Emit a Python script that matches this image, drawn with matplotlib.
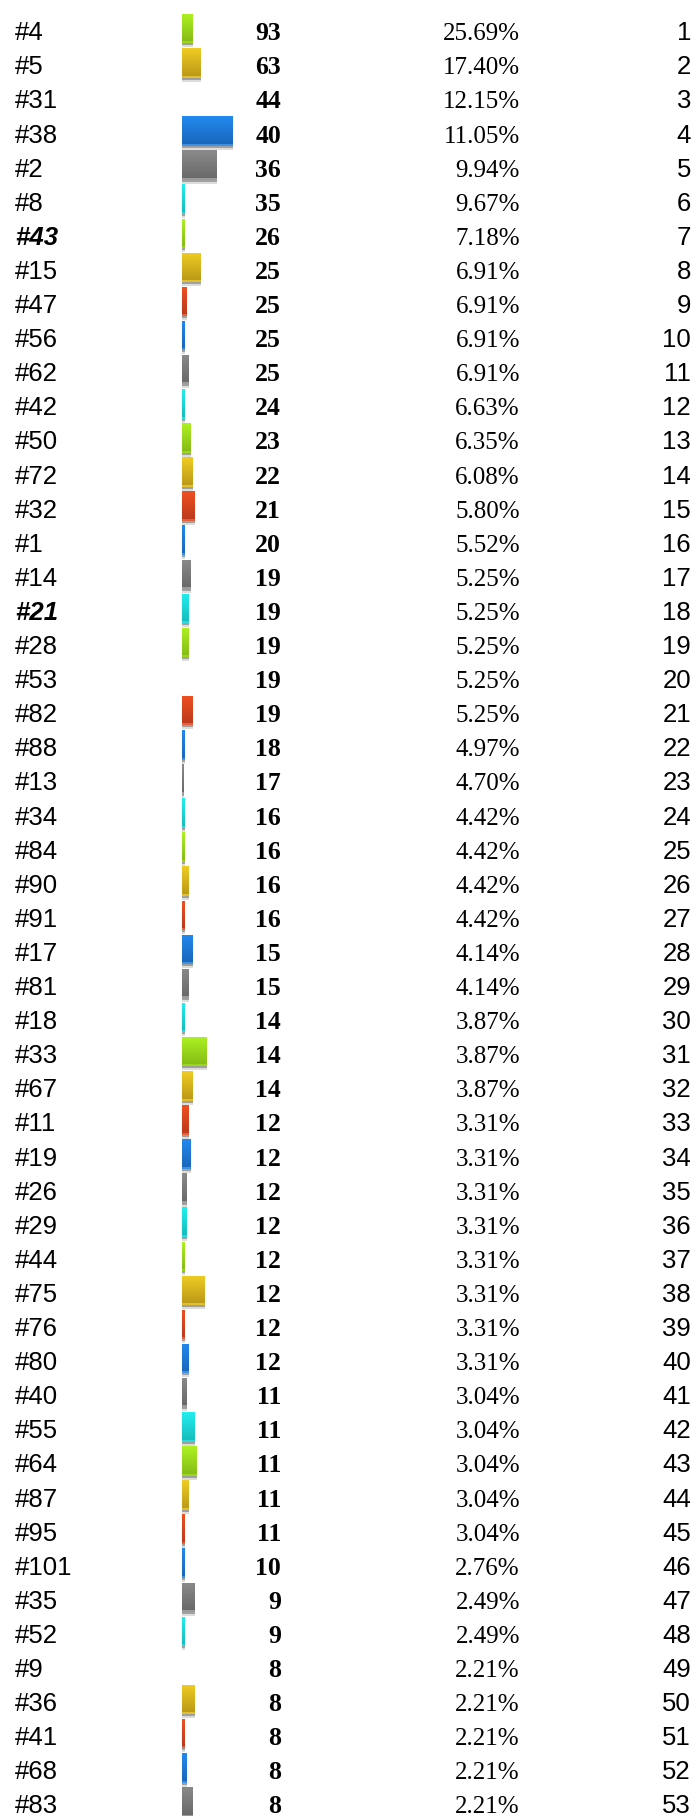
import numpy as np
import matplotlib
matplotlib.use('Agg')
import matplotlib.pyplot as plt
from matplotlib.colors import LinearSegmentedColormap
from matplotlib.patches import Rectangle

# row labels, counts, share of total, bar sizes (second metric shown as small bars)
labels = ['#4', '#5', '#31', '#38', '#2', '#8', '#43', '#15', '#47', '#56', '#62', '#42', '#50',
          '#72', '#32', '#1', '#14', '#21', '#28', '#53', '#82', '#88', '#13', '#34', '#84', '#90',
          '#91', '#17', '#81', '#18', '#33', '#67', '#11', '#19', '#26', '#29', '#44', '#75', '#76',
          '#80', '#40', '#55', '#64', '#87', '#95', '#101', '#35', '#52', '#9', '#36', '#41', '#68', '#83']
counts = [93, 63, 44, 40, 36, 35, 26, 25, 25, 25, 25, 24, 23, 22, 21, 20, 19, 19, 19, 19, 19, 18,
          17, 16, 16, 16, 16, 15, 15, 14, 14, 14, 12, 12, 12, 12, 12, 12, 12, 12, 11, 11, 11, 11, 11,
          10, 9, 9, 8, 8, 8, 8, 8]
percents = ['25.69%', '17.40%', '12.15%', '11.05%', '9.94%', '9.67%', '7.18%', '6.91%', '6.91%',
            '6.91%', '6.91%', '6.63%', '6.35%', '6.08%', '5.80%', '5.52%', '5.25%', '5.25%', '5.25%',
            '5.25%', '5.25%', '4.97%', '4.70%', '4.42%', '4.42%', '4.42%', '4.42%', '4.14%', '4.14%',
            '3.87%', '3.87%', '3.87%', '3.31%', '3.31%', '3.31%', '3.31%', '3.31%', '3.31%', '3.31%',
            '3.31%', '3.04%', '3.04%', '3.04%', '3.04%', '3.04%', '2.76%', '2.49%', '2.49%', '2.21%',
            '2.21%', '2.21%', '2.21%', '2.21%']
bar_sizes = [11, 19, 0, 51, 35, 3, 3, 19, 5, 3, 7, 3, 9, 11, 13, 3, 9, 7, 7, 0, 11, 3, 2, 3, 3, 7,
             3, 11, 7, 3, 25, 11, 7, 9, 5, 5, 3, 23, 3, 7, 5, 13, 15, 7, 3, 3, 13, 3, 0, 13, 3, 5, 11]
highlight = ['#43', '#21']

# top / bottom of the gradient for each bar colour, cycling by row
palette = [('#aef222', '#86bd16'), ('#f0cd22', '#bd9a18'), ('#f05022', '#bd3a1c'),
           ('#2289ee', '#1a68bd'), ('#8a8a8a', '#6a6a6a'), ('#22eef0', '#16bdbd')]
strip = ['#9ad61e', '#e0c030', '#e06040', '#4090e0', '#9a9a9a', '#30d8da']

W, H = 698, 1816
pitch = 34.1
fig = plt.figure(figsize=(W / 100, H / 100), dpi=100)
ax = fig.add_axes([0, 0, 1, 1])
top = -(31 / pitch)
ax.set_xlim(0, W)
ax.set_ylim(top + H / pitch, top)
ax.axis('off')

bar_x = 182
px = 1 / pitch
for i, (lab, n, pct, sz) in enumerate(zip(labels, counts, percents, bar_sizes)):
    c_top, c_bot = palette[i % 6]
    y0 = i - 0.5
    if sz > 0:
        main_h = 27.5 * px
        cmap = LinearSegmentedColormap.from_list('g', [c_top, c_bot])
        rect = Rectangle((bar_x, y0), sz, main_h, facecolor='none', edgecolor='none')
        ax.add_patch(rect)
        im = ax.imshow(np.linspace(0, 1, 64).reshape(-1, 1), cmap=cmap, aspect='auto',
                       extent=(bar_x, bar_x + sz, y0 + main_h, y0), interpolation='bilinear',
                       zorder=2)
        im.set_clip_path(rect)
        ax.barh(y0 + main_h + 1 * px, sz, height=2 * px, left=bar_x, color=strip[i % 6],
                align='center', zorder=2)
        ax.barh(y0 + main_h + 3 * px, sz, height=2 * px, left=bar_x, color='#a0a0a0',
                align='center', zorder=2)
        ax.barh(y0 + main_h + 5 * px, sz, height=2 * px, left=bar_x, color='#dcdcd8',
                align='center', zorder=2)

    base = i + 0.27
    if lab in highlight:
        ax.text(15, base, lab, fontsize=18.5, family='Liberation Sans', fontweight='bold',
                fontstyle='italic', va='baseline', ha='left')
    else:
        ax.text(15, base, lab, fontsize=18.5, family='Liberation Sans', va='baseline', ha='left')
    ax.text(281, base, str(n), fontsize=18.5, family='Liberation Serif', fontweight='bold',
            va='baseline', ha='right')
    ax.text(520, base, pct, fontsize=18, family='Liberation Serif', va='baseline', ha='right')
    ax.text(691, base, str(i + 1), fontsize=18.5, family='Liberation Sans', va='baseline',
            ha='right')

fig.savefig('out.png', dpi=100)
